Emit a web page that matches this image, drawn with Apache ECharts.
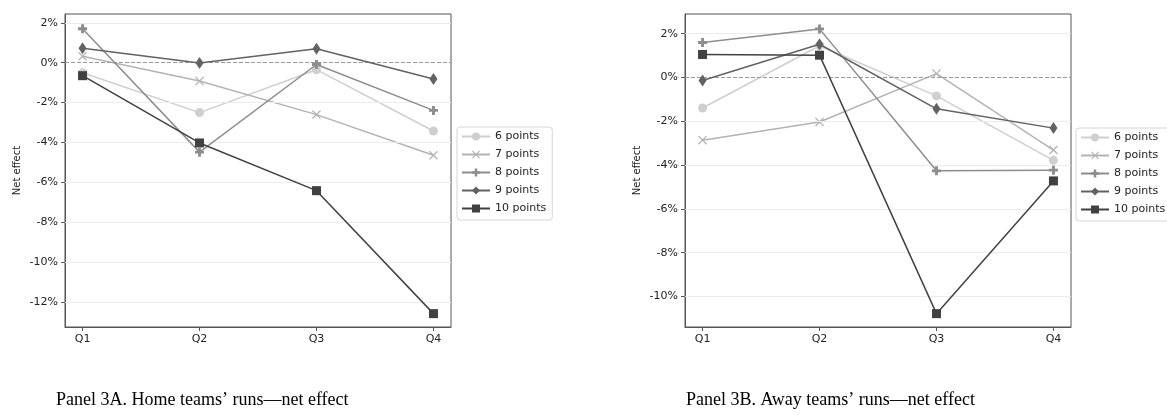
<!DOCTYPE html>
<html>
<head>
<meta charset="utf-8">
<script src="https://cdn.jsdelivr.net/npm/echarts@6/dist/echarts.min.js"></script>
<style>
html,body{margin:0;padding:0;background:#fff;}
#chart{width:1167px;height:417px;}
</style>
</head>
<body>
<div id="chart"></div>
<script>
// ---- data ----
const quarters = ['Q1', 'Q2', 'Q3', 'Q4'];
const seriesNames = ['6 points', '7 points', '8 points', '9 points', '10 points'];
const yTicksA = [-12, -10, -8, -6, -4, -2, 0, 2];
const yTicksB = [-10, -8, -6, -4, -2, 0, 2];

// Panel 3A: home teams' runs, net effect (%)
const homeSix   = [-0.5, -2.5, -0.35, -3.42];
const homeSeven = [0.32, -0.92, -2.6, -4.64];
const homeEight = [1.70, -4.48, -0.09, -2.39];
const homeNine  = [0.73, -0.02, 0.70, -0.82];
const homeTen   = [-0.65, -4.02, -6.41, -12.57];

// Panel 3B: away teams' runs, net effect (%)
const awaySix   = [-1.39, 1.45, -0.84, -3.78];
const awaySeven = [-2.86, -2.03, 0.18, -3.31];
const awayEight = [1.60, 2.22, -4.26, -4.23];
const awayNine  = [-0.14, 1.52, -1.43, -2.31];
const awayTen   = [1.05, 1.02, -10.78, -4.72];

const captionA = 'Panel 3A. Home teams\u2019 runs\u2014net effect';
const captionB = 'Panel 3B. Away teams\u2019 runs\u2014net effect';

// ---- styles ----
const colors = ['#cfcfcf', '#b3b3b3', '#8d8d8d', '#626262', '#414141'];
const symbols = [
  'circle',
  'path://M0,1 L1,0 L5,4 L9,0 L10,1 L6,5 L10,9 L9,10 L5,6 L1,10 L0,9 L4,5 Z',
  'path://M3.4,0 L6.6,0 L6.6,3.4 L10,3.4 L10,6.6 L6.6,6.6 L6.6,10 L3.4,10 L3.4,6.6 L0,6.6 L0,3.4 L3.4,3.4 Z',
  'diamond',
  'rect'
];
const symbolSizes = [9, 9, 9, [8, 12], 9];
const font = 'DejaVu Sans';

function pairs(arr) { return arr.map((v, i) => [i, v]); }

function makeSeries(datasets, axisIdx) {
  return datasets.map((d, i) => ({
    name: seriesNames[i],
    type: 'line',
    xAxisIndex: axisIdx,
    yAxisIndex: axisIdx,
    data: pairs(d),
    symbol: symbols[i],
    symbolSize: symbolSizes[i],
    showAllSymbol: true,
    lineStyle: { color: colors[i], width: 1.5 },
    itemStyle: { color: colors[i] },
    emphasis: { disabled: true },
    z: 3 + i
  }));
}

function gridLines(ticks, axisIdx) {
  return {
    type: 'line',
    xAxisIndex: axisIdx,
    yAxisIndex: axisIdx,
    data: [],
    silent: true,
    z: 1,
    markLine: {
      silent: true,
      symbol: 'none',
      label: { show: false },
      animation: false,
      data: ticks.map(t => ({
        yAxis: t,
        lineStyle: t === 0
          ? { color: '#9a9a9a', type: [4, 2], width: 1 }
          : { color: '#ececec', type: 'solid', width: 1 }
      }))
    }
  };
}

function xAxis(gridIndex) {
  return {
    type: 'value',
    gridIndex: gridIndex,
    min: -0.15,
    max: 3.15,
    splitLine: { show: false },
    axisLine: { show: true, onZero: false, lineStyle: { color: '#555', width: 1 } },
    axisTick: { show: true, inside: false, length: 4, customValues: [0, 1, 2, 3], lineStyle: { color: '#555' } },
    axisLabel: {
      customValues: [0, 1, 2, 3],
      formatter: v => quarters[Math.round(v)],
      color: '#222', fontFamily: font, fontSize: 11, margin: 7
    }
  };
}

function yAxis(gridIndex, min, max, ticks) {
  return {
    type: 'value',
    gridIndex: gridIndex,
    min: min,
    max: max,
    name: 'Net effect',
    nameLocation: 'middle',
    nameGap: 43,
    nameTextStyle: { color: '#222', fontFamily: font, fontSize: 10 },
    splitLine: { show: false },
    axisLine: { show: true, onZero: false, lineStyle: { color: '#555', width: 1 } },
    axisTick: { show: true, inside: false, length: 4, customValues: ticks, lineStyle: { color: '#555' } },
    axisLabel: {
      customValues: ticks,
      formatter: v => Math.round(v) + '%',
      color: '#222', fontFamily: font, fontSize: 11, margin: 7
    }
  };
}

function legend(left, top) {
  return {
    orient: 'vertical',
    left: left,
    top: top,
    data: seriesNames,
    itemWidth: 28,
    itemHeight: 10,
    itemGap: 7,
    padding: [4, 6, 6, 4],
    borderColor: '#d6d6d6',
    borderWidth: 1,
    borderRadius: 3,
    backgroundColor: '#fff',
    selectedMode: false,
    textStyle: { color: '#222', fontFamily: font, fontSize: 11, padding: [0, 0, 0, 0] }
  };
}

const chart = echarts.init(document.getElementById('chart'), null, { renderer: 'canvas' });
chart.setOption({
  animation: false,
  backgroundColor: '#fff',
  grid: [
    { left: 65, top: 14, width: 386, height: 313, show: true, borderColor: '#555', borderWidth: 1, backgroundColor: 'transparent' },
    { left: 685, top: 14, width: 386, height: 313, show: true, borderColor: '#555', borderWidth: 1, backgroundColor: 'transparent' }
  ],
  xAxis: [xAxis(0), xAxis(1)],
  yAxis: [yAxis(0, -13.24, 2.44, yTicksA), yAxis(1, -11.39, 2.9, yTicksB)],
  legend: [legend(457, 127), legend(1076, 128)],
  graphic: [
    { type: 'text', left: 56, top: 391, style: { text: captionA, fontFamily: 'Liberation Serif', fontSize: 18, fill: '#000' } },
    { type: 'text', left: 686, top: 391, style: { text: captionB, fontFamily: 'Liberation Serif', fontSize: 18, fill: '#000' } }
  ],
  series: [
    gridLines(yTicksA, 0),
    gridLines(yTicksB, 1),
    ...makeSeries([homeSix, homeSeven, homeEight, homeNine, homeTen], 0),
    ...makeSeries([awaySix, awaySeven, awayEight, awayNine, awayTen], 1)
  ]
});
</script>
</body>
</html>
